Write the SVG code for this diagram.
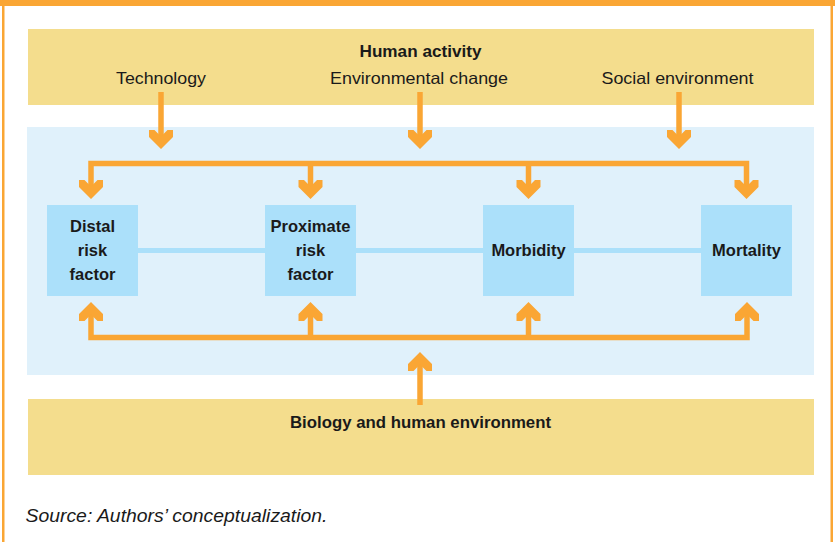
<svg xmlns="http://www.w3.org/2000/svg" xmlns:xlink="http://www.w3.org/1999/xlink" width="835" height="542" viewBox="0 0 835 542">
  <style>
    .frame { fill: #FAA634; }
    .band { fill: #F4DD8D; }
    .field { fill: #E0F1FB; }
    .box { fill: #ABE0FA; }
    .link { stroke: #ABE0FA; stroke-width: 5; fill: none; }
    .flow { stroke: #FAA634; stroke-width: 5.5; fill: none; stroke-linejoin: miter; }
    .head { fill: #FAA634; }
    text { font-family: "Liberation Sans", Arial, sans-serif; fill: #1A1A1A; }
    .title { font-size: 17px; font-weight: bold; text-anchor: middle; }
    .sub { font-size: 16.5px; text-anchor: middle; }
    .lbl { font-size: 16.5px; font-weight: bold; text-anchor: middle; }
    .note { font-size: 18px; font-style: italic; }
  </style>
  <defs>
    <!-- chevron arrowhead pointing down, tip at the origin -->
    <polygon id="hd" class="head" points="0,0 -12,-12 -12,-19 -6.5,-19 0,-12.5 6.5,-19 12,-19 12,-12"/>
  </defs>

  <!-- outer frame -->
  <rect class="frame" x="0" y="0" width="835" height="6"/>
  <rect class="frame" x="2" y="0" width="2.5" height="542"/>
  <rect class="frame" x="830.5" y="0" width="2.5" height="542"/>

  <!-- backgrounds -->
  <g id="human-activity">
    <rect class="band" x="28" y="29" width="786" height="76"/>
    <text class="title" x="420.5" y="57" textLength="122" lengthAdjust="spacingAndGlyphs">Human activity</text>
    <text class="sub" x="161" y="84" textLength="90" lengthAdjust="spacingAndGlyphs">Technology</text>
    <text class="sub" x="419" y="84" textLength="178" lengthAdjust="spacingAndGlyphs">Environmental change</text>
    <text class="sub" x="677.5" y="84" textLength="152" lengthAdjust="spacingAndGlyphs">Social environment</text>
  </g>
  <rect class="field" x="27" y="127" width="787" height="248"/>
  <g id="biology">
    <rect class="band" x="28" y="399" width="786" height="76"/>
    <text class="lbl" x="420.5" y="427.5" textLength="261" lengthAdjust="spacingAndGlyphs">Biology and human environment</text>
  </g>

  <!-- connectors -->
  <g id="connectors">
    <line class="link" x1="138" y1="250.5" x2="701" y2="250.5"/>

    <!-- influences from human activity -->
    <line class="flow" x1="161" y1="92" x2="161" y2="140"/>
    <line class="flow" x1="420" y1="92" x2="420" y2="140"/>
    <line class="flow" x1="679" y1="92" x2="679" y2="140"/>
    <use xlink:href="#hd" transform="translate(161,149)"/>
    <use xlink:href="#hd" transform="translate(420,149)"/>
    <use xlink:href="#hd" transform="translate(679,149)"/>

    <polyline class="flow" points="91,192 91,163.5 746.5,163.5 746.5,192"/>
    <line class="flow" x1="310.5" y1="163.5" x2="310.5" y2="192"/>
    <line class="flow" x1="528.5" y1="163.5" x2="528.5" y2="192"/>
    <use xlink:href="#hd" transform="translate(91,199)"/>
    <use xlink:href="#hd" transform="translate(310.5,199)"/>
    <use xlink:href="#hd" transform="translate(528.5,199)"/>
    <use xlink:href="#hd" transform="translate(746.5,199)"/>

    <!-- influences from biology and human environment -->
    <polyline class="flow" points="91,309 91,337.5 747,337.5 747,309"/>
    <line class="flow" x1="310.5" y1="337.5" x2="310.5" y2="309"/>
    <line class="flow" x1="528.5" y1="337.5" x2="528.5" y2="309"/>
    <use xlink:href="#hd" transform="translate(91,302) rotate(180)"/>
    <use xlink:href="#hd" transform="translate(310.5,302) rotate(180)"/>
    <use xlink:href="#hd" transform="translate(528.5,302) rotate(180)"/>
    <use xlink:href="#hd" transform="translate(747,302) rotate(180)"/>

    <line class="flow" x1="420" y1="405" x2="420" y2="360"/>
    <use xlink:href="#hd" transform="translate(420,352) rotate(180)"/>
  </g>

  <!-- nodes -->
  <g id="distal">
    <rect class="box" x="47" y="205" width="91" height="91"/>
    <text class="lbl" x="92.5" y="232">Distal</text>
    <text class="lbl" x="92.5" y="256">risk</text>
    <text class="lbl" x="92.5" y="280">factor</text>
  </g>
  <g id="proximate">
    <rect class="box" x="265" y="205" width="91" height="91"/>
    <text class="lbl" x="310.5" y="232">Proximate</text>
    <text class="lbl" x="310.5" y="256">risk</text>
    <text class="lbl" x="310.5" y="280">factor</text>
  </g>
  <g id="morbidity">
    <rect class="box" x="483" y="205" width="91" height="91"/>
    <text class="lbl" x="528.5" y="256">Morbidity</text>
  </g>
  <g id="mortality">
    <rect class="box" x="701" y="205" width="91" height="91"/>
    <text class="lbl" x="746.5" y="256">Mortality</text>
  </g>

  <text class="note" x="25.5" y="522" textLength="302" lengthAdjust="spacingAndGlyphs">Source: Authors’ conceptualization.</text>
</svg>
